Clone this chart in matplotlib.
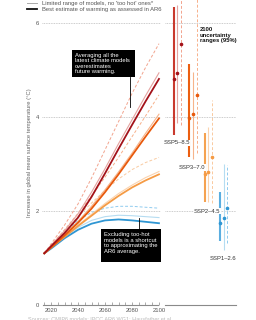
import matplotlib
matplotlib.use("Agg")
import matplotlib.pyplot as plt
from matplotlib.patches import Rectangle
from matplotlib.lines import Line2D

plt.rcParams['font.family'] = ['Liberation Sans', 'DejaVu Sans']

# ---------------- data ----------------
years = [2015, 2020, 2030, 2040, 2050, 2060, 2070, 2080, 2090, 2100]

ssp585_best = [1.1, 1.25, 1.53, 1.86, 2.3, 2.8, 3.32, 3.83, 4.33, 4.81]
ssp585_limited = [1.1, 1.27, 1.58, 1.94, 2.4, 2.9, 3.43, 3.94, 4.45, 4.94]
ssp585_all = [1.1, 1.3, 1.7, 2.15, 2.7, 3.3, 3.9, 4.5, 5.05, 5.56]

ssp370_best = [1.1, 1.22, 1.48, 1.75, 2.05, 2.4, 2.78, 3.18, 3.58, 3.97]
ssp370_limited = [1.1, 1.23, 1.5, 1.78, 2.1, 2.45, 2.83, 3.23, 3.65, 4.06]
ssp370_all = [1.1, 1.27, 1.6, 1.95, 2.32, 2.72, 3.14, 3.58, 4.02, 4.47]

ssp245_best = [1.1, 1.22, 1.45, 1.68, 1.9, 2.12, 2.32, 2.5, 2.65, 2.78]
ssp245_limited = [1.1, 1.22, 1.46, 1.7, 1.93, 2.16, 2.37, 2.55, 2.71, 2.84]
ssp245_all = [1.1, 1.27, 1.58, 1.88, 2.17, 2.44, 2.68, 2.88, 3.03, 3.14]

ssp126_best = [1.1, 1.2, 1.42, 1.6, 1.73, 1.8, 1.82, 1.8, 1.77, 1.74]
ssp126_limited = [1.1, 1.22, 1.45, 1.65, 1.8, 1.88, 1.91, 1.9, 1.88, 1.86]
ssp126_all = [1.1, 1.27, 1.55, 1.8, 1.97, 2.06, 2.1, 2.1, 2.08, 2.06]

scenarios = ["SSP5–8.5", "SSP3–7.0", "SSP2–4.5", "SSP1–2.6"]
# 2100 ranges: (low, median, high) for best estimate, limited models, all models
range_best = [(3.62, 4.81, 6.34), (3.15, 3.97, 5.13), (2.19, 2.78, 3.65), (1.37, 1.74, 2.41)]
range_limited = [(3.87, 4.94, 6.38), (3.10, 4.06, 4.96), (2.19, 2.84, 3.79), (1.17, 1.86, 3.00)]
range_all = [(3.83, 5.56, 7.00), (3.23, 4.47, 7.00), (2.17, 3.14, 4.36), (1.31, 2.06, 2.98)]

x_ticks = [2020, 2040, 2060, 2080, 2100]
y_ticks = [0, 2, 4, 6]

# ---------------- styles ----------------
col_best = ["#a3121a", "#e8590c", "#f59b45", "#2f96d3"]
col_limited = ["#e5a3a0", "#f6b48a", "#fbd3ae", "#b5dcf1"]
col_all = ["#f2a48e", "#f7b08a", "#f9caa0", "#8fcbef"]
bar_best = ["#c93a2e", "#ec5e10", "#f5a250", "#5aaee0"]

W, H = 256, 320
fig = plt.figure(figsize=(W / 100, H / 100), dpi=100)

def fx(px):
    return px / W

def fy(py):
    return 1 - py / H

y0px = 305.0
ppu = 47.0
ytop = y0px / ppu

ax = fig.add_axes([fx(42), fy(y0px), fx(161) - fx(42), fy(0) - fy(y0px)])
ax.set_xlim(2013.3, 2101.5)
ax.set_ylim(0, ytop)
for s in ["top", "right", "left"]:
    ax.spines[s].set_visible(False)
ax.spines["bottom"].set_color("#8a8a8a")
ax.spines["bottom"].set_linewidth(0.8)
ax.spines["bottom"].set_bounds(2014, 2099)
ax.set_xticks(x_ticks)
ax.set_xticks(list(range(2015, 2100, 5)), minor=True)
ax.tick_params(axis="x", which="both", direction="in", length=2.5, width=0.5,
               color="#8a8a8a", labelsize=4.2, labelcolor="#555555", pad=2)
ax.set_yticks(y_ticks)
ax.tick_params(axis="y", length=0, labelsize=4.2, labelcolor="#555555", pad=2)
for yv in y_ticks[1:]:
    ax.axhline(yv, color="#bbbbbb", lw=0.6, ls=(0, (1, 1)), zorder=0)
ax.set_ylabel("Increase in global mean surface temperature (°C)", fontsize=4.2,
              color="#666666", labelpad=3)

series = [
    (ssp126_all, ssp126_limited, ssp126_best),
    (ssp245_all, ssp245_limited, ssp245_best),
    (ssp370_all, ssp370_limited, ssp370_best),
    (ssp585_all, ssp585_limited, ssp585_best),
]
for k, (a, l, b) in enumerate(series):
    i = 3 - k
    ax.plot(years, a, color=col_all[i], lw=0.7, ls=(0, (3, 2)), zorder=2)
    ax.plot(years, l, color=col_limited[i], lw=0.8, zorder=3)
for k, (a, l, b) in enumerate(series):
    i = 3 - k
    ax.plot(years, b, color=col_best[i], lw=1.3, zorder=4)

# ---------------- right panel ----------------
ax2 = fig.add_axes([fx(165), fy(y0px), fx(236) - fx(165), fy(0) - fy(y0px)])
ax2.set_xlim(-0.8, 3.81)
ax2.set_ylim(0, ytop)
for s in ["top", "right", "left"]:
    ax2.spines[s].set_visible(False)
ax2.spines["bottom"].set_color("#8a8a8a")
ax2.spines["bottom"].set_linewidth(0.8)
ax2.set_xticks([])
ax2.set_yticks([])
for yv in y_ticks[1:]:
    ax2.axhline(yv, color="#bbbbbb", lw=0.6, ls=(0, (1, 1)), zorder=0)

off_b, off_l, off_a = -0.23, 0.0, 0.25
for i, name in enumerate(scenarios):
    lo, md, hi = range_best[i]
    ax2.vlines(i + off_b, lo, hi, color=bar_best[i], lw=1.5, zorder=3)
    ax2.plot(i + off_b, md, "o", ms=1.6, color=col_best[i], zorder=4)
    lo, md, hi = range_limited[i]
    ax2.vlines(i + off_l, lo, hi, color=col_limited[i], lw=0.8, zorder=3)
    ax2.plot(i + off_l, md, "o", ms=1.6, color=col_best[i], zorder=4)
    lo, md, hi = range_all[i]
    ax2.vlines(i + off_a, lo, hi, color=col_all[i], lw=0.7, ls=(0, (3, 2)), zorder=3)
    ax2.plot(i + off_a, md, "o", ms=1.6, color=col_best[i], zorder=4)
    ylab = min(range_best[i][0], range_limited[i][0], range_all[i][0]) - 0.12
    ax2.text(i - 0.05, ylab, name, fontsize=4.2, color="#333333", ha="center",
             va="top", zorder=5,
             bbox=dict(facecolor="white", edgecolor="none", pad=0.4))

ax2.text(0.0 + 1.45, 5.92, "2100\nuncertainty\nranges (95%)", fontsize=4.2,
         fontweight="bold", color="#111111", ha="left", va="top", linespacing=1.2)

# ---------------- legend ----------------
fig.add_artist(Line2D([fx(27), fx(37)], [fy(3), fy(3)], color="#aaaaaa", lw=0.7))
fig.add_artist(Line2D([fx(27), fx(37)], [fy(9.3), fy(9.3)], color="#111111", lw=1.3))
fig.text(fx(42.5), fy(3), "Limited range of models, no 'too hot' ones*", fontsize=4.2,
         color="#555555", va="center", ha="left")
fig.text(fx(42.5), fy(9.3), "Best estimate of warming as assessed in AR6", fontsize=4.2,
         color="#555555", va="center", ha="left")

# ---------------- annotation boxes ----------------
fig.add_artist(Rectangle((fx(72), fy(77)), fx(135) - fx(72), fy(50) - fy(77),
                         facecolor="black", edgecolor="none", transform=fig.transFigure))
fig.add_artist(Line2D([fx(130), fx(130)], [fy(77), fy(107)], color="black", lw=0.6))
fig.text(fx(75), fy(52.5), "Averaging all the\nlatest climate models\noverestimates\nfuture warming.",
         fontsize=4.2, color="white", va="top", ha="left", linespacing=1.15)

fig.add_artist(Rectangle((fx(101), fy(262)), fx(161) - fx(101), fy(229) - fy(262),
                         facecolor="black", edgecolor="none", transform=fig.transFigure))
fig.add_artist(Line2D([fx(138.5), fx(138.5)], [fy(229), fy(218)], color="black", lw=0.6))
fig.text(fx(104), fy(232), "Excluding too-hot\nmodels is a shortcut\nto approximating the\nAR6 average.",
         fontsize=4.2, color="white", va="top", ha="left", linespacing=1.15)

fig.text(fx(28), fy(316.5), "Sources: CMIP6 models; IPCC AR6 WG1; Hausfather et al.",
         fontsize=4.0, color="#bbbbbb", va="top", ha="left")

fig.savefig("out.png", dpi=100)
